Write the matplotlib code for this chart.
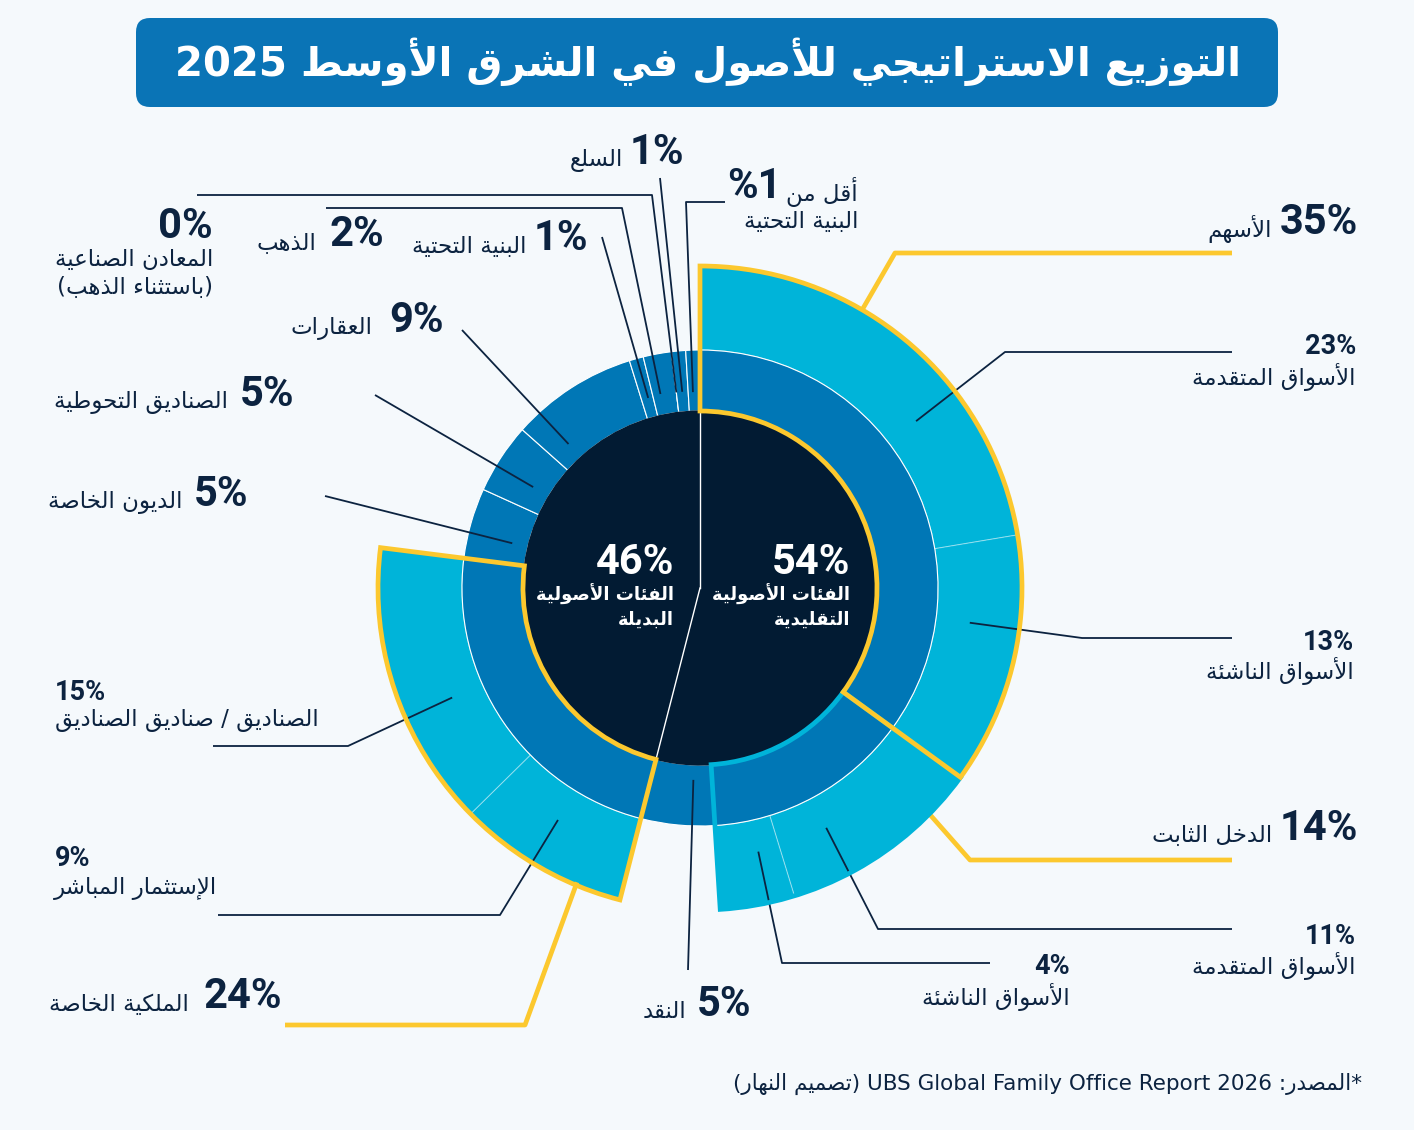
import re

import matplotlib
matplotlib.use('Agg')
import matplotlib.pyplot as plt
import numpy as np
from matplotlib.patches import FancyBboxPatch, Wedge

W, H = 1414, 1130

# ---------------- data ----------------
group_names = ['التقليدية', 'البديلة']
group_shares = [54, 46]

trad_names = ['الأسهم', 'الدخل الثابت', 'النقد']
trad_values = [35, 14, 5]

alt_names = ['الملكية الخاصة', 'الديون الخاصة', 'الصناديق التحوطية', 'العقارات',
             'البنية التحتية', 'الذهب', 'المعادن الصناعية', 'السلع', 'البنية التحتية']
alt_values = [24, 5, 5, 9, 1, 2, 0, 1, 1]
alt_pct_text = ['24%', '5%', '5%', '9%', '1%', '2%', '0%', '1%', '%1']

stock_sub_names = ['الأسواق المتقدمة', 'الأسواق الناشئة']
stock_sub_values = [23, 13]
bond_sub_names = ['الأسواق المتقدمة', 'الأسواق الناشئة']
bond_sub_values = [11, 4]
pe_sub_names = ['الإستثمار المباشر', 'الصناديق / صناديق الصناديق']
pe_sub_values = [9, 15]

title = 'التوزيع الاستراتيجي للأصول في الشرق الأوسط 2025'
source = '*المصدر: UBS Global Family Office Report 2026 (تصميم النهار)'

# colours
BG = '#f5f9fc'
INK = '#0c2340'
NAVY = '#021b33'
MID = '#0077b6'
OUT = '#00b4d9'
YEL = '#fcc82e'

# ---------------- minimal arabic shaping (matplotlib has no bidi) ----------------
DUAL = dict(zip('ئبتثجحخسشصضطظعغفقكلمنهي',
                [0xFE89, 0xFE8F, 0xFE95, 0xFE99, 0xFE9D, 0xFEA1, 0xFEA5, 0xFEB1,
                 0xFEB5, 0xFEB9, 0xFEBD, 0xFEC1, 0xFEC5, 0xFEC9, 0xFECD, 0xFED1,
                 0xFED5, 0xFED9, 0xFEDD, 0xFEE1, 0xFEE5, 0xFEE9, 0xFEF1]))
RIGHT = dict(zip('آأؤإاةدذرزوى',
                 [0xFE81, 0xFE83, 0xFE85, 0xFE87, 0xFE8D, 0xFE93, 0xFEA9, 0xFEAB,
                  0xFEAD, 0xFEAF, 0xFEED, 0xFEEF]))
LAM_ALEF = dict(zip('آأإا', [0xFEF5, 0xFEF7, 0xFEF9, 0xFEFB]))


def shape(s):
    toks = []
    i = 0
    while i < len(s):
        c = s[i]
        if c == 'ل' and i + 1 < len(s) and s[i + 1] in LAM_ALEF:
            toks.append(('R', LAM_ALEF[s[i + 1]]))
            i += 2
            continue
        if c in DUAL:
            toks.append(('D', DUAL[c]))
        elif c in RIGHT:
            toks.append(('R', RIGHT[c]))
        elif c == 'ء':
            toks.append(('U', '\uFE80'))
        else:
            toks.append(('U', c))
        i += 1
    out = []
    for k, (kind, base) in enumerate(toks):
        if kind == 'U':
            out.append(base)
            continue
        jp = k > 0 and toks[k - 1][0] == 'D'
        jn = kind == 'D' and k + 1 < len(toks) and toks[k + 1][0] in 'DR'
        if kind == 'R':
            out.append(chr(base + (1 if jp else 0)))
        else:
            out.append(chr(base + (3 if jp and jn else 1 if jp else 2 if jn else 0)))
    return ''.join(out)


def vis(s):
    r = shape(s)[::-1].translate(str.maketrans('()', ')('))
    # put latin / digit runs back in reading order
    return re.sub(r'[A-Za-z0-9][A-Za-z0-9 .]*[A-Za-z0-9]', lambda m: m.group(0)[::-1], r)


# ---------------- figure ----------------
fig = plt.figure(figsize=(W / 100, H / 100), dpi=100, facecolor=BG)
ax = fig.add_axes([0, 0, 1, 1])
ax.set_facecolor(BG)

CX, CY = 700, H - 588
R0, R1, R2 = 177, 238, 322

trad_arc = [v * group_shares[0] / sum(trad_values) for v in trad_values]
alt_arc = [v * group_shares[1] / sum(alt_values) for v in alt_values]
mid_arc = trad_arc + alt_arc


def sub_arc(vals, parent):
    return [v * parent / sum(vals) for v in vals]


outer_arc = (sub_arc(stock_sub_values, trad_arc[0]) + sub_arc(bond_sub_values, trad_arc[1])
             + [trad_arc[2]] + sub_arc(pe_sub_values, alt_arc[0]) + [sum(alt_arc[1:])])
outer_shown = [True, True, True, True, False, True, True, False]

mid_edges = np.concatenate([[0], np.cumsum(mid_arc)]) * 3.6
out_edges = np.concatenate([[0], np.cumsum(outer_arc)]) * 3.6
grp_edges = np.concatenate([[0], np.cumsum(group_shares)]) * 3.6

# outer ring
wo, _ = ax.pie(outer_arc, radius=R2, center=(CX, CY), startangle=90, counterclock=False,
               colors=[OUT] * len(outer_arc),
               wedgeprops=dict(width=R2 - R1, edgecolor=(1, 1, 1, 0.35), linewidth=0.8))
for w, show in zip(wo, outer_shown):
    w.set_visible(show)

# middle ring
ax.pie(mid_arc, radius=R1, center=(CX, CY), startangle=90, counterclock=False,
       colors=[MID] * len(mid_arc),
       wedgeprops=dict(width=R1 - R0, edgecolor='white', linewidth=0.8))

# centre
ax.pie(group_shares, radius=R0 + 0.6, center=(CX, CY), startangle=90, counterclock=False,
       colors=[NAVY, NAVY], wedgeprops=dict(linewidth=0))
for a in grp_edges[:-1]:
    t = np.radians(a)
    ax.plot([CX, CX + R0 * np.sin(t)], [CY, CY + R0 * np.cos(t)], color='white', lw=1.0)


def outline(i, color):
    a1, a2 = mid_edges[i], mid_edges[i + 1]
    ax.add_patch(Wedge((CX, CY), R2, 90 - a2, 90 - a1, width=R2 - R0, fill=False,
                       edgecolor=color, linewidth=3.4, joinstyle='miter', zorder=5))


outline(1, OUT)
outline(0, YEL)
outline(3, YEL)


# ---------------- text helpers ----------------
def artext(x, y, s, size, ha='right', color=INK, weight='normal'):
    ax.text(x, H - y, vis(s), fontsize=size, ha=ha, va='center', color=color,
            fontweight=weight, family=['DejaVu Sans'], zorder=6)


def pct(x, y, s, size, ha='right', color=INK):
    ax.text(x, H - y, s, fontsize=size, ha=ha, va='center', color=color,
            fontweight='bold', family=['Roboto', 'DejaVu Sans'], zorder=6)


def polar(a, r):
    t = np.radians(a)
    return CX + r * np.sin(t), CY + r * np.cos(t)


def leader(edges, i, frac, r, path, color=INK, lw=1.3):
    a = edges[i] + frac * (edges[i + 1] - edges[i])
    x0, y0 = polar(a, r)
    xs = [x0] + [p[0] for p in path]
    ys = [y0] + [H - p[1] for p in path]
    ax.plot(xs, ys, color=color, lw=lw, solid_capstyle='butt', zorder=4)


BIG, MED, NAME = 30, 19.5, 16.5

# title box
ax.add_patch(FancyBboxPatch((136, H - 107), 1142, 89, boxstyle='round,pad=0,rounding_size=14',
                            facecolor='#0a74b6', edgecolor='none'))
ax.text(708, H - 62, vis(title), fontsize=29, ha='center', va='center', color='white',
        fontweight='bold', family=['DejaVu Sans'])

# centre labels
pct(850, 562, f'{group_shares[0]}%', BIG, color='white')
artext(850, 594, 'الفئات الأصولية', 13, color='white', weight='bold')
artext(850, 620, group_names[0], 13, color='white', weight='bold')
pct(674, 562, f'{group_shares[1]}%', BIG, color='white')
artext(674, 594, 'الفئات الأصولية', 13, color='white', weight='bold')
artext(674, 620, group_names[1], 13, color='white', weight='bold')

# --- traditional side ---
leader(mid_edges, 0, 0.24, R2, [(895, 253), (1232, 253)], YEL, 3.4)
pct(1358, 222, f'{trad_values[0]}%', BIG)
artext(1272, 229, trad_names[0], NAME)

leader(out_edges, 0, 0.65, 273, [(1005, 352), (1232, 352)])
pct(1356, 347, f'{stock_sub_values[0]}%', MED)
artext(1356, 377, stock_sub_names[0], NAME)

leader(out_edges, 1, 0.37, 272, [(1082, 638), (1232, 638)])
pct(1354, 642, f'{stock_sub_values[1]}%', MED)
artext(1354, 671, stock_sub_names[1], NAME)

leader(mid_edges, 1, 0.17, R2, [(970, 860), (1232, 860)], YEL, 3.4)
pct(1358, 828, f'{trad_values[1]}%', BIG)
artext(1272, 835, trad_names[1], NAME)

leader(out_edges, 2, 0.71, 271, [(878, 929), (1232, 929)])
pct(1356, 937, f'{bond_sub_values[0]}%', MED)
artext(1356, 966, bond_sub_names[0], NAME)

leader(out_edges, 3, 0.34, 270, [(782, 963), (990, 963)])
pct(1070, 967, f'{bond_sub_values[1]}%', MED)
artext(1070, 997, bond_sub_names[1], NAME)

leader(mid_edges, 2, 0.31, 192, [(688, 970)])
pct(751, 1004, f'{trad_values[2]}%', BIG)
artext(686, 1012, trad_names[2], NAME)

# --- alternative side ---
leader(mid_edges, 3, 0.10, R2 - 3, [(525, 1025), (285, 1025)], YEL, 3.4)
pct(282, 996, alt_pct_text[0], BIG)
artext(189, 1004, alt_names[0], NAME)

leader(out_edges, 5, 0.55, 272, [(500, 915), (218, 915)])
pct(55, 859, f'{pe_sub_values[0]}%', MED, ha='left')
artext(217, 889, pe_sub_names[0], NAME)

leader(out_edges, 6, 0.40, 271, [(348, 746), (213, 746)])
pct(55, 692, f'{pe_sub_values[1]}%', MED, ha='left')
artext(319, 721, pe_sub_names[1], NAME)

leader(mid_edges, 4, 0.36, 193, [(325, 496)])
pct(248, 495, alt_pct_text[1], BIG)
artext(183, 503, alt_names[1], NAME)

leader(mid_edges, 5, 0.39, 195, [(375, 395)])
pct(294, 395, alt_pct_text[2], BIG)
artext(228, 403, alt_names[2], NAME)

leader(mid_edges, 6, 0.19, 195, [(462, 330)])
pct(444, 321, alt_pct_text[3], BIG)
artext(373, 329, alt_names[3], NAME)

leader(mid_edges, 7, 0.58, 197, [(602, 237)])
pct(588, 239, alt_pct_text[4], BIG)
artext(527, 246, alt_names[4], NAME)

leader(mid_edges, 8, 0.33, 198, [(622, 208), (326, 208)])
pct(384, 235, alt_pct_text[5], BIG)
artext(316, 243, alt_names[5], NAME)

leader(mid_edges, 9, 0.0, 197, [(652, 195), (197, 195)])
pct(213, 226, alt_pct_text[6], BIG)
artext(213, 259, alt_names[6], NAME)
artext(213, 287, '(باستثناء الذهب)', NAME)

leader(mid_edges, 10, 0.5, 197, [(660, 178)])
pct(684, 152, alt_pct_text[7], BIG)
artext(623, 161, alt_names[7], NAME)

leader(mid_edges, 11, 0.4, 196, [(686, 202), (725, 202)])
pct(782, 186, alt_pct_text[8], BIG)
artext(858, 192, 'أقل من', NAME)
artext(858, 221, alt_names[8], NAME)

# source
artext(1362, 1084, source, 15.5)

ax.set_xlim(0, W)
ax.set_ylim(0, H)
ax.set_aspect('equal')
ax.axis('off')

fig.savefig('out.png', dpi=100, facecolor=BG)
